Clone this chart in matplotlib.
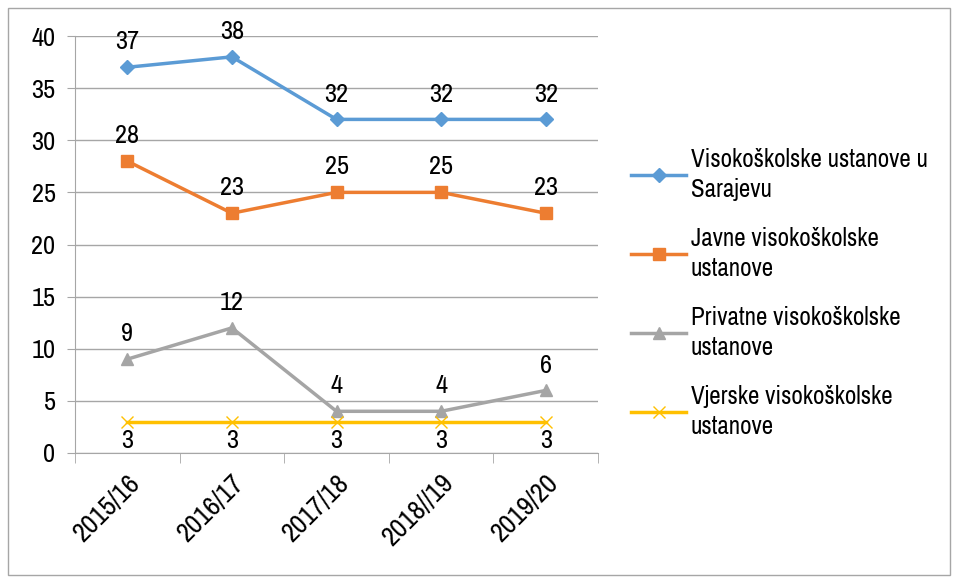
import matplotlib
matplotlib.use("Agg")
import matplotlib.pyplot as plt
from matplotlib.patches import Rectangle
from matplotlib import font_manager

categories = ["2015/16", "2016/17", "2017/18", "2018//19", "2019/20"]
sarajevo = [37, 38, 32, 32, 32]
javne = [28, 23, 25, 25, 23]
privatne = [9, 12, 4, 4, 6]
vjerske = [3, 3, 3, 3, 3]
series_names = ["Visokoškolske ustanove u\nSarajevu", "Javne visokoškolske\nustanove",
                "Privatne visokoškolske\nustanove", "Vjerske visokoškolske\nustanove"]

names = {f.name for f in font_manager.fontManager.ttflist}
fam = "Liberation Sans"
for cand in ["Liberation Sans Narrow", "Arial Narrow", "Archivo Narrow", "PT Sans Narrow",
             "Roboto Condensed", "Arimo"]:
    if cand in names:
        fam = cand
        break
plt.rcParams['font.family'] = [fam, "DejaVu Sans"]
plt.rcParams['font.weight'] = 500
FS = 19

fig = plt.figure(figsize=(9.56, 5.79), dpi=100)
fig.patches.append(Rectangle((8/956, 4/579), 942/956, 567/579, transform=fig.transFigure,
                             fill=False, edgecolor="#a6a6a6", linewidth=1))
ax = fig.add_axes([75/956, 1-453/579, (598-75)/956, (453-36)/579])

x = list(range(len(categories)))
styles = [
    (sarajevo, "#5b9bd5", "D", 7, "above"),
    (javne, "#ed7d31", "s", 8, "above"),
    (privatne, "#a5a5a5", "^", 8, "above"),
    (vjerske, "#ffc000", "x", 9, "below"),
]
handles = []
for (vals, col, mk, ms, pos), name in zip(styles, series_names):
    h, = ax.plot(x, vals, color=col, linewidth=2.5, marker=mk, markersize=ms,
                 markeredgewidth=1, label=name)
    handles.append(h)
    for xi, v in zip(x, vals):
        if pos == "above":
            ax.annotate(str(v), (xi, v), xytext=(0, 10), textcoords="offset points",
                        ha="center", va="bottom", fontsize=FS)
        else:
            ax.annotate(str(v), (xi, v), xytext=(0, -5), textcoords="offset points",
                        ha="center", va="top", fontsize=FS)

ax.set_xlim(-0.5, len(categories) - 0.5)
ax.set_ylim(0, 40)
ax.set_yticks(range(0, 41, 5))
ax.tick_params(axis="y", labelsize=FS, length=6, color="#a6a6a6", pad=8)
ax.set_xticks(x)
ax.set_xticklabels(categories, rotation=45, ha="right", rotation_mode="anchor", fontsize=20)
ax.tick_params(axis="x", length=0, pad=12)
ax.set_xticks([i - 0.5 for i in range(len(categories) + 1)], minor=True)
ax.tick_params(axis="x", which="minor", length=7, color="#a6a6a6")
ax.grid(axis="y", color="#a6a6a6", linewidth=1)
ax.set_axisbelow(True)
for s in ["top", "right"]:
    ax.spines[s].set_visible(False)
for s in ["left", "bottom"]:
    ax.spines[s].set_color("#a6a6a6")

leg = fig.legend(handles=handles, loc="center left", bbox_to_anchor=(631/956, 1-293/579),
                 frameon=False, fontsize=18, handlelength=2.2, handletextpad=0.2,
                 labelspacing=1.05, borderpad=0, borderaxespad=0)
for t in leg.get_texts():
    t.set_linespacing(1.35)

fig.savefig("out.png", dpi=100)
